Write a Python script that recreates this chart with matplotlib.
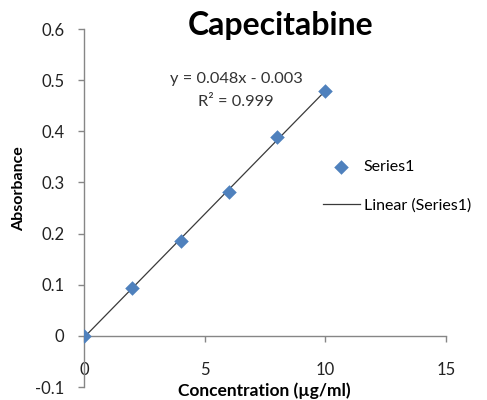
import numpy as np
import matplotlib
matplotlib.use("Agg")
import matplotlib.pyplot as plt

conc = [0, 2, 4, 6, 8, 10]
absorb = [0.0, 0.093, 0.186, 0.282, 0.388, 0.479]
x_ticks = [0, 5, 10, 15]
y_ticks = [-0.1, 0, 0.1, 0.2, 0.3, 0.4, 0.5, 0.6]
y_tick_labels = ["-0.1", "0", "0.1", "0.2", "0.3", "0.4", "0.5", "0.6"]
title = "Capecitabine"
eq_text = "y = 0.048x - 0.003"
r2_text = "R² = 0.999"

plt.rcParams['font.family'] = ['Lato', 'DejaVu Sans']

fig = plt.figure(figsize=(4.87, 4.0), dpi=100)
ax = fig.add_axes([84/487, 1-387/400, (446-84)/487, (387-29)/400])

slope, intercept = np.polyfit(conc, absorb, 1)
xf = np.array([min(conc), max(conc)])
ax.plot(xf, slope*xf + intercept, color='#3a3a3a', lw=0.9, zorder=2, label='Linear (Series1)')
ax.scatter(conc, absorb, marker='D', s=55, color='#4F81BD', zorder=3, label='Series1', linewidths=0)

ax.set_xlim(0, 15)
ax.set_ylim(-0.1, 0.6)
ax.set_xticks(x_ticks)
ax.set_yticks(y_ticks)
ax.set_yticklabels(y_tick_labels)

for s in ['top', 'right']:
    ax.spines[s].set_visible(False)
ax.spines['bottom'].set_position(('data', 0))
for s in ['left', 'bottom']:
    ax.spines[s].set_color('#868686')
    ax.spines[s].set_linewidth(1.0)
ax.tick_params(axis='both', colors='#868686', length=4, width=1, direction='out', labelcolor='#222222', labelsize=12)
ax.tick_params(axis='x', pad=15)
ax.tick_params(axis='y', pad=10)

fig.text(281/487, 1-25/400, title, fontsize=23, fontweight='bold', ha='center', va='center')
fig.text(19/487, 1-189/400, "Absorbance", fontsize=11.5, fontweight='bold', ha='center', va='center', rotation=90)
fig.text(264/487, 1-391/400, "Concentration (µg/ml)", fontsize=12.5, fontweight='bold', ha='center', va='center')

ax.text(6.3, 0.502, eq_text, fontsize=11.8, ha='center', va='center', color='#333333')
ax.text(6.3, 0.457, r2_text, fontsize=11.8, ha='center', va='center', color='#333333')

leg = ax.legend(handles=[ax.collections[0], ax.lines[0]], loc='center left', bbox_to_anchor=(0.642, 0.561),
                frameon=False, fontsize=11.5, handlelength=2.3, labelspacing=1.5, handletextpad=0.25,
                borderaxespad=0.0)

fig.savefig("out.png", dpi=100)
